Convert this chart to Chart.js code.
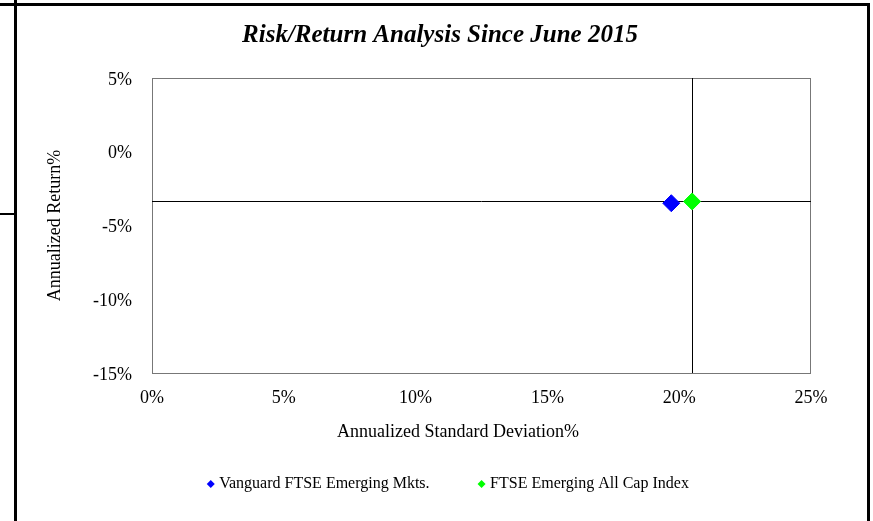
<!DOCTYPE html>
<html>
<head>
<meta charset="utf-8">
<script src="https://cdn.jsdelivr.net/npm/chart.js@4.4.1/dist/chart.umd.min.js"></script>
<style>
  html, body { margin: 0; padding: 0; background: #ffffff; }
  #wrap { position: relative; width: 873px; height: 521px; }
</style>
</head>
<body>
<div id="wrap"><canvas id="c" width="873" height="521"></canvas></div>
<script>
// Chart text
const chartTitle = 'Risk/Return Analysis Since June 2015';
const xAxisTitle = 'Annualized Standard Deviation%';
const yAxisTitle = 'Annualized Return%';

// Series: annualized standard deviation (%) and annualized return (%)
const seriesNames = ['Vanguard FTSE Emerging Mkts.', 'FTSE Emerging All Cap Index'];
const seriesColors = ['#0000FF', '#00FF00'];
const stdDev = [19.70, 20.49];
const annReturn = [-3.49, -3.37];

// Benchmark series, used for the crosshair lines
const benchmarkIndex = 1;

// Axis ticks
const xTicks = [0, 5, 10, 15, 20, 25];
const yTicks = [-15, -10, -5, 0, 5];

const SERIF = '"Liberation Serif", "Times New Roman", Times, serif';

const datasets = seriesNames.map((name, i) => ({
  label: name,
  data: [{ x: stdDev[i], y: annReturn[i] }],
  pointStyle: 'rectRot',
  pointRadius: 8.5,
  pointHoverRadius: 8.5,
  borderWidth: 1,
  backgroundColor: seriesColors[i],
  borderColor: seriesColors[i]
}));

// Page frame, plot frame, crosshair, titles and legend
const decorations = {
  id: 'decorations',
  beforeDraw(chart) {
    const ctx = chart.ctx;
    ctx.save();
    ctx.fillStyle = '#ffffff';
    ctx.fillRect(0, 0, chart.width, chart.height);
    ctx.fillStyle = '#000000';
    ctx.fillRect(0, 3, 870, 3);     // top rule
    ctx.fillRect(14, 0, 3, 521);    // left rule
    ctx.fillRect(867, 3, 3, 518);   // right rule
    ctx.fillRect(0, 213, 15, 2);    // left tab
    ctx.restore();
  },
  beforeDatasetsDraw(chart) {
    const { ctx, chartArea: a, scales } = chart;
    ctx.save();
    // plot frame
    ctx.strokeStyle = '#777777';
    ctx.lineWidth = 1;
    ctx.strokeRect(Math.round(a.left) + 0.5, Math.round(a.top) + 0.5,
                   Math.round(a.right - a.left) - 1, Math.round(a.bottom - a.top));
    // crosshair through the benchmark
    const px = Math.floor(scales.x.getPixelForValue(stdDev[benchmarkIndex])) + 0.5;
    const py = Math.floor(scales.y.getPixelForValue(annReturn[benchmarkIndex])) + 0.5;
    ctx.strokeStyle = '#000000';
    ctx.beginPath();
    ctx.moveTo(px, a.top);
    ctx.lineTo(px, a.bottom);
    ctx.moveTo(a.left, py);
    ctx.lineTo(a.right, py);
    ctx.stroke();
    ctx.restore();
  },
  afterDraw(chart) {
    const ctx = chart.ctx;
    ctx.save();
    ctx.fillStyle = '#000000';
    ctx.textBaseline = 'alphabetic';
    // chart title
    ctx.font = 'italic bold 25px ' + SERIF;
    ctx.textAlign = 'center';
    ctx.fillText(chartTitle, 440, 42);
    // x axis title
    ctx.font = '18px ' + SERIF;
    ctx.fillText(xAxisTitle, 458, 437);
    // legend
    ctx.font = '16px ' + SERIF;
    ctx.textAlign = 'left';
    const r = 4, gap = 4.5, itemGap = 48;
    const widths = seriesNames.map(n => 2 * r + gap + ctx.measureText(n).width);
    const total = widths.reduce((s, w) => s + w, 0) + itemGap * (widths.length - 1);
    let x = 447.8 - total / 2;
    const cy = 484;
    seriesNames.forEach((name, i) => {
      const cx = x + r;
      ctx.fillStyle = seriesColors[i];
      ctx.beginPath();
      ctx.moveTo(cx - r, cy);
      ctx.lineTo(cx, cy - r);
      ctx.lineTo(cx + r, cy);
      ctx.lineTo(cx, cy + r);
      ctx.closePath();
      ctx.fill();
      ctx.fillStyle = '#000000';
      ctx.fillText(name, x + 2 * r + gap, 488);
      x += widths[i] + itemGap;
    });
    ctx.restore();
  }
};

new Chart(document.getElementById('c'), {
  type: 'scatter',
  data: { datasets },
  options: {
    responsive: false,
    animation: false,
    devicePixelRatio: 1,
    layout: { padding: { left: 30, top: 78, right: 62, bottom: 108 } },
    plugins: {
      legend: { display: false },
      title: { display: false },
      tooltip: { enabled: false }
    },
    scales: {
      x: {
        type: 'linear',
        min: 0,
        max: 25,
        afterBuildTicks: s => { s.ticks = xTicks.map(v => ({ value: v })); },
        afterFit: s => { s.height = 40; },
        grid: { display: false, drawTicks: false },
        border: { display: false },
        ticks: {
          color: '#000000',
          font: { family: SERIF, size: 18 },
          padding: 14,
          maxRotation: 0,
          autoSkip: false,
          callback: v => v + '%'
        }
      },
      y: {
        type: 'linear',
        min: -15,
        max: 5,
        afterBuildTicks: s => { s.ticks = yTicks.map(v => ({ value: v })); },
        afterFit: s => { s.width = 122; },
        grid: { display: false, drawTicks: false },
        border: { display: false },
        ticks: {
          color: '#000000',
          font: { family: SERIF, size: 18 },
          padding: 20,
          labelOffset: 2,
          autoSkip: false,
          callback: v => v + '%'
        },
        title: {
          display: true,
          text: yAxisTitle,
          color: '#000000',
          font: { family: SERIF, size: 18 },
          padding: { top: 14.7, bottom: 0 }
        }
      }
    }
  },
  plugins: [decorations]
});
</script>
</body>
</html>
